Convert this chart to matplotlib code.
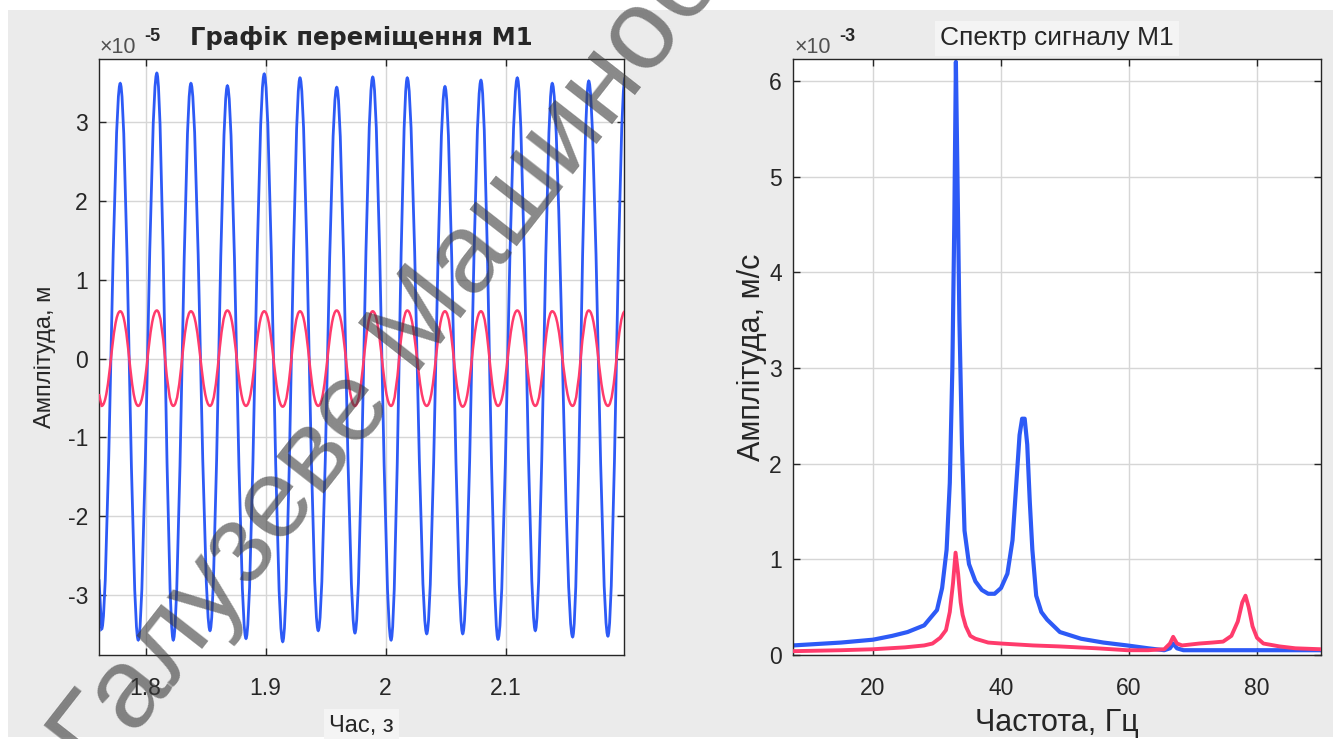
import matplotlib
matplotlib.use("Agg")
import matplotlib.pyplot as plt
from matplotlib.path import Path
from matplotlib.patches import PathPatch, Rectangle

plt.rcParams['font.family'] = ['Liberation Sans', 'DejaVu Sans']
plt.rcParams['axes.unicode_minus'] = False

# ---- displacement of M1 (x 1e-5 m): extremum times and values ----
disp_t = [1.7611, 1.7633, 1.7788, 1.7938, 1.8093, 1.8230, 1.8377, 1.8536,
          1.8681, 1.8836, 1.8988, 1.9142, 1.9286, 1.9438, 1.9592, 1.9744,
          1.9892, 2.0045, 2.0180, 2.0342, 2.0494, 2.0642, 2.0794, 2.0936,
          2.1097, 2.1247, 2.1388, 2.1558, 2.1692, 2.1852, 2.1995]
disp_blue = [-2.80, -3.43, 3.49, -3.57, 3.62, -3.57, 3.49, -3.45,
             3.46, -3.55, 3.61, -3.59, 3.56, -3.45, 3.44, -3.48,
             3.57, -3.57, 3.56, -3.49, 3.45, -3.49, 3.53, -3.56,
             3.56, -3.45, 3.49, -3.53, 3.52, -3.52, 3.56]
disp_red = [-0.45, -0.60, 0.60, -0.60, 0.61, -0.60, 0.60, -0.60,
            0.61, -0.60, 0.60, -0.61, 0.60, -0.60, 0.61, -0.60,
            0.60, -0.60, 0.61, -0.60, 0.60, -0.61, 0.60, -0.60,
            0.61, -0.60, 0.60, -0.60, 0.61, -0.60, 0.60]
time_ticks = [1.8, 1.9, 2.0, 2.1]
time_tick_labels = ['1.8', '1.9', '2', '2.1']
disp_ticks = [-3, -2, -1, 0, 1, 2, 3]

# ---- spectrum of M1 (x 1e-3 m/s) ----
freq_blue = [7.5, 10, 15, 20, 23, 25.4, 28, 30, 30.8, 31.5, 32.0, 32.4, 32.7,
             32.95, 33.2, 33.5, 33.9, 34.3, 35, 36, 37, 38, 39, 40, 41, 41.8,
             42.4, 42.9, 43.3, 43.7, 44.1, 44.5, 44.9, 45.5, 46.3, 47.2, 49.2,
             52.5, 56, 59.7, 63, 65.5, 66.4, 66.9, 67.5, 68.5, 75, 80, 85, 90]
amp_blue = [0.10, 0.11, 0.13, 0.16, 0.20, 0.24, 0.31, 0.47, 0.70, 1.10, 1.80,
            3.00, 4.50, 6.20, 5.00, 3.50, 2.20, 1.30, 0.95, 0.77, 0.68, 0.64,
            0.64, 0.70, 0.85, 1.20, 1.80, 2.30, 2.47, 2.47, 2.20, 1.60, 1.10,
            0.62, 0.45, 0.37, 0.24, 0.17, 0.13, 0.10, 0.07, 0.05, 0.07, 0.12,
            0.07, 0.05, 0.05, 0.05, 0.05, 0.05]
freq_red = [7.5, 15, 20, 25, 28, 29.3, 30.5, 31.4, 32.0, 32.5, 32.9, 33.3,
            33.7, 34.0, 34.5, 35.2, 36, 38, 40, 45, 49, 55, 59.7, 63, 65.5,
            66.4, 66.9, 67.5, 68.3, 71, 73, 74.7, 76, 77, 77.7, 78.2, 78.7,
            79.3, 80, 81, 83.5, 86, 90]
amp_red = [0.04, 0.05, 0.06, 0.08, 0.10, 0.12, 0.18, 0.26, 0.45, 0.75, 1.07,
           0.85, 0.55, 0.42, 0.30, 0.20, 0.17, 0.13, 0.12, 0.10, 0.09, 0.07,
           0.05, 0.05, 0.06, 0.12, 0.19, 0.12, 0.10, 0.12, 0.13, 0.14, 0.20,
           0.35, 0.55, 0.62, 0.50, 0.30, 0.18, 0.12, 0.09, 0.07, 0.06]
freq_ticks = [20, 40, 60, 80]
amp_ticks = [0, 1, 2, 3, 4, 5, 6]

BLUE = '#2d5af6'
RED = '#ff3b6c'
INK = '#262626'
W, H = 1341, 739


def extremum_path(t, v, handle):
    """Smooth path through alternating extrema (flat tangents at each)."""
    verts = [(t[0], v[0]), (t[1], v[1])]
    codes = [Path.MOVETO, Path.LINETO]
    for i in range(2, len(t)):
        dt = t[i] - t[i - 1]
        verts += [(t[i - 1] + handle * dt, v[i - 1]),
                  (t[i] - handle * dt, v[i]),
                  (t[i], v[i])]
        codes += [Path.CURVE4] * 3
    return Path(verts, codes)


def px_axes(x0, x1, y0, y1):
    return [x0 / W, 1 - y1 / H, (x1 - x0) / W, (y1 - y0) / H]


def style_axes(ax):
    ax.set_facecolor('white')
    ax.grid(True, color='#d6d6d6', lw=1.0)
    ax.set_axisbelow(True)
    for s in ax.spines.values():
        s.set_color(INK)
        s.set_linewidth(1.0)
    ax.tick_params(direction='in', length=5, width=1, top=True, right=True,
                   colors=INK, labelsize=16.5)
    ax.tick_params(axis='x', pad=16)
    ax.tick_params(axis='y', pad=8)


fig = plt.figure(figsize=(W / 100, H / 100), dpi=100, facecolor='white')
fig.patches.append(Rectangle((8 / W, 2 / H), 1325 / W, 727 / H,
                             transform=fig.transFigure, facecolor='#ebebeb',
                             edgecolor='none', zorder=-10))

# ---------------- left: displacement ----------------
ax1 = fig.add_axes(px_axes(99, 624, 59, 655))
style_axes(ax1)
ax1.add_patch(PathPatch(extremum_path(disp_t, disp_red, 0.44),
                        facecolor='none', edgecolor=RED, lw=1.8, zorder=3))
ax1.add_patch(PathPatch(extremum_path(disp_t, disp_blue, 0.36),
                        facecolor='none', edgecolor=BLUE, lw=2.0, zorder=2))
ax1.set_xlim(1.7611, 2.1986)
ax1.set_ylim(-3.76, 3.80)
ax1.set_xticks(time_ticks)
ax1.set_xticklabels(time_tick_labels)
ax1.set_yticks(disp_ticks)
ax1.set_yticklabels([str(v) for v in disp_ticks])
ax1.set_title('Графік переміщення М1', fontsize=17.5, fontweight='bold',
              family='DejaVu Sans', color=INK, pad=10)
ax1.set_xlabel('Час, з', fontsize=17, color=INK,
               bbox=dict(facecolor='#f4f4f4', edgecolor='none', pad=4))
ax1.xaxis.set_label_coords(0.5, -0.119)
ax1.xaxis.label.set_va('center')
ax1.set_ylabel('Амплітуда, м', fontsize=17, color=INK)
ax1.yaxis.set_label_coords(-0.103, 0.5)
ax1.yaxis.label.set_va('center')
fig.text(100 / W, 1 - 53 / H, '×10', fontsize=15.5, color='#505050',
         ha='left', va='baseline')
fig.text(144 / W, 1 - 41 / H, '-5', fontsize=13, color=INK,
         fontweight='bold', ha='left', va='baseline')

# ---------------- right: spectrum ----------------
ax2 = fig.add_axes(px_axes(793, 1321, 59, 655))
style_axes(ax2)
ax2.plot(freq_blue, amp_blue, color=BLUE, lw=3.0, solid_joinstyle='round',
         zorder=2)
ax2.plot(freq_red, amp_red, color=RED, lw=2.8, solid_joinstyle='round',
         zorder=3)
ax2.set_xlim(7.5, 90)
ax2.set_ylim(0, 6.23)
ax2.set_xticks(freq_ticks)
ax2.set_yticks(amp_ticks)
ax2.set_title('Спектр сигналу М1', fontsize=19, color=INK, pad=10,
              bbox=dict(facecolor='#f4f4f4', edgecolor='none', pad=4))
ax2.set_xlabel('Частота, Гц', fontsize=22, color=INK)
ax2.xaxis.set_label_coords(0.5, -0.114)
ax2.xaxis.label.set_va('center')
ax2.set_ylabel('Амплітуда, м/с', fontsize=22, color=INK)
ax2.yaxis.set_label_coords(-0.0777, 0.5)
ax2.yaxis.label.set_va('center')
fig.text(795 / W, 1 - 53 / H, '×10', fontsize=15.5, color='#505050',
         ha='left', va='baseline')
fig.text(839 / W, 1 - 41 / H, '-3', fontsize=13, color=INK,
         fontweight='bold', ha='left', va='baseline')

# diagonal watermark
fig.text(100 / W, 1 - 780 / H, 'Галузеве Машинобудування', fontsize=82,
         rotation=52, rotation_mode='anchor', ha='left', va='baseline',
         color='#3a3a3a', alpha=0.6, zorder=10)

fig.savefig('out.png', dpi=100, facecolor=fig.get_facecolor())
